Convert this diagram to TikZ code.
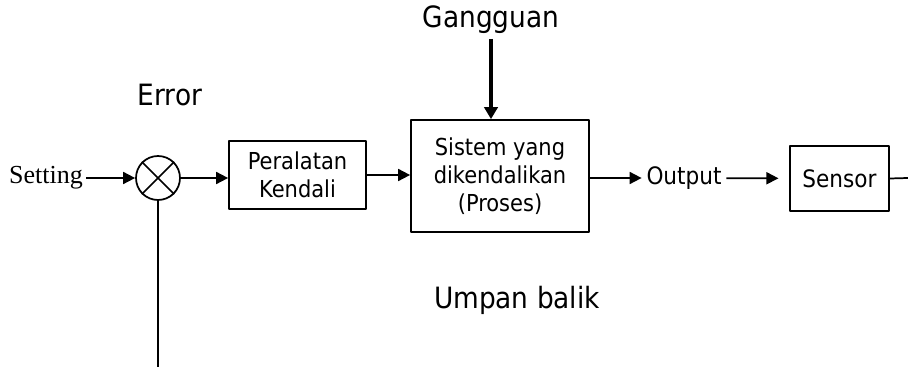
\documentclass[tikz,border=0pt]{standalone}
\usepackage{fontspec}
\setmainfont{DejaVu Sans Condensed}
\newfontfamily\settingfont{Liberation Serif}
\usetikzlibrary{arrows.meta}
\begin{document}
\begin{tikzpicture}[x=0.75pt,y=-0.75pt,>={Triangle[length=9pt,width=9pt]},line join=bevel,line width=1.3pt,
    label/.style={inner sep=3pt,font=\fontsize{22}{26}\selectfont},
    sig/.style={inner sep=3pt,font=\fontsize{18}{22}\selectfont},
    blok/.style={draw,rectangle,inner sep=0pt,align=center,font=\fontsize{17.5}{21}\selectfont}]
    %%
    \useasboundingbox (0,0) rectangle (908,367);
    \node (gangguan) at (491,20) [label] {Gangguan};
    \node (error) at (170,95) [label] {Error};
    \node (umpan) at (517,300) [label] {Umpan balik};
    \node (setting) at (46,178) [inner sep=2pt,font=\settingfont\fontsize{19.5}{22}\selectfont] {Setting};
    \node (sum) at (158,178) [draw,circle,minimum size=33pt,inner sep=0pt] {};
    \node (kendali) at (297.5,175) [blok,minimum width=102.75pt,minimum height=51pt] {Peralatan\\Kendali};
    \node (proses) at (500,176) [blok,minimum width=133.5pt,minimum height=84pt] {Sistem yang\\dikendalikan\\(Proses)};
    \node (output) at (684,178) [sig] {Output};
    \node (sensor) at (839.5,178.5) [blok,minimum width=74.25pt,minimum height=48.75pt,font=\fontsize{18}{22}\selectfont] {Sensor};
    \coordinate (ujung) at (908,178);
    \coordinate (bawah) at (158,367);
    %
    \draw (sum.north west) -- (sum.south east);
    \draw (sum.north east) -- (sum.south west);
    \draw [->] (setting) -- (sum);
    \draw [->] (sum) -- (sum -| kendali.west);
    \draw [->] (kendali.east) -- (kendali.east -| proses.west);
    \draw [-{Triangle[length=9pt,width=10pt]},line width=2.4pt] (gangguan) -- (gangguan |- proses.north);
    \draw [->] (proses.east |- output) -- (output);
    \draw [->,shorten >=8pt] (output) -- (sensor);
    \draw (sensor.east) -- (ujung);
    \draw (sum) -- (bawah);
    %
\end{tikzpicture}
\end{document}
